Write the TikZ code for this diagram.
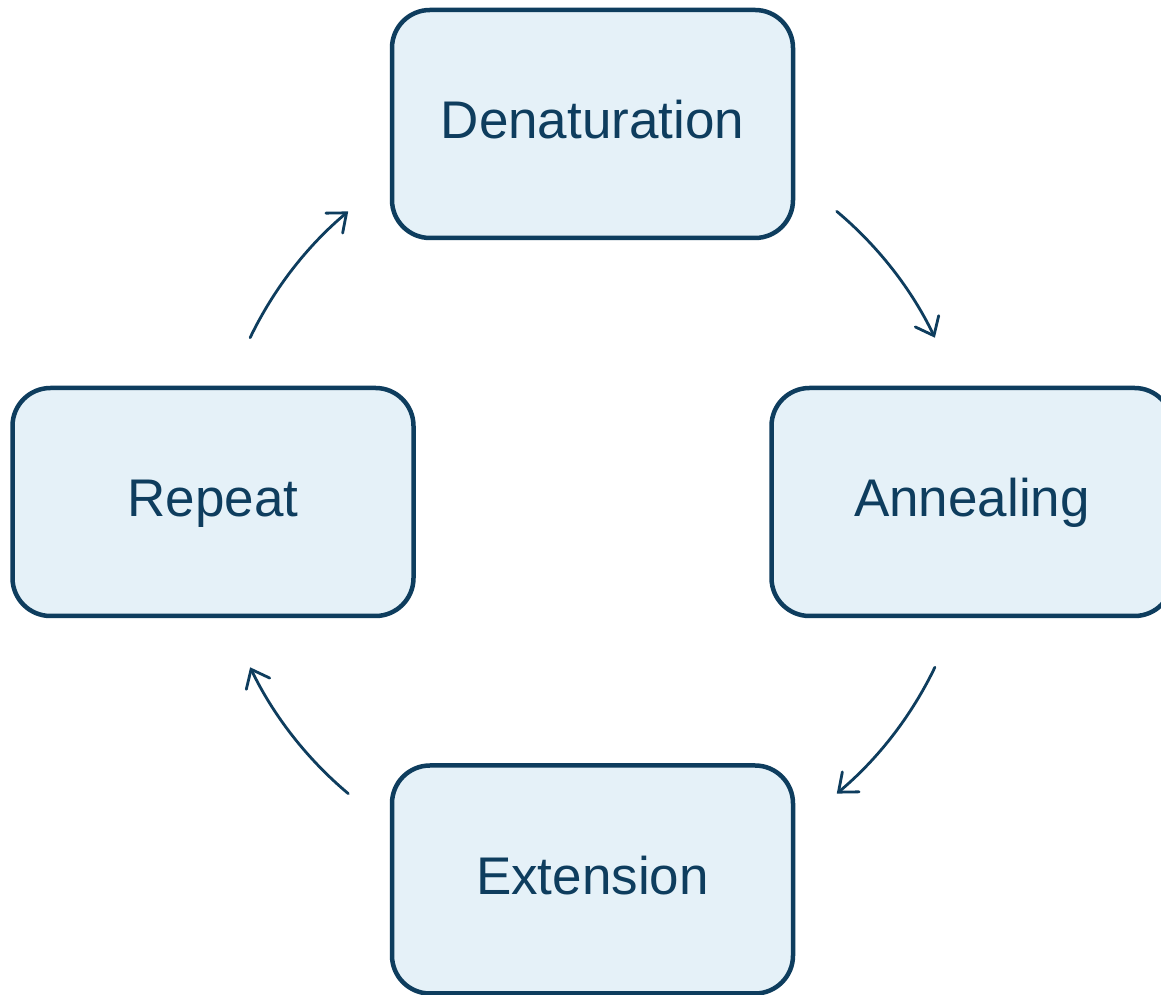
\documentclass[tikz,border=0pt]{standalone}
\usepackage{fontspec}
\setmainfont{Liberation Sans}
\usetikzlibrary{arrows.meta}
\definecolor{navy}{HTML}{0E3D5E}
\definecolor{stepfill}{HTML}{E5F1F8}
\tikzset{
  stagebox/.style={draw=navy, fill=stepfill, line width=4.5pt, rounded corners=38pt,
    minimum width=401pt, minimum height=228pt, inner sep=0pt,
    text height=30pt, text depth=0pt, text=navy, font=\fontsize{53}{62}\selectfont},
  cyclearrow/.style={draw=navy, line width=2.8pt, line cap=round,
    -{Straight Barb[length=16pt,width=26pt,line width=2.8pt,line cap=round]}}
}
\begin{document}
\begin{tikzpicture}[x=1pt,y=1pt]
  \clip (0,0) rectangle (1161,995);
  \fill[white] (0,0) rectangle (1161,995);
  % cycle centre and the four stages
  \coordinate (hub) at (592.5,492.5);
  \node[stagebox] (den) at (592.5,871) {Denaturation};
  \node[stagebox] (ann) at (972,493) {Annealing};
  \node[stagebox] (ext) at (592.5,115.5) {Extension};
  \node[stagebox] (rep) at (213,493) {Repeat};
  % arrow start points on the ring around the hub
  \coordinate (s1) at ([shift={(50:380)}]hub);
  \coordinate (s2) at ([shift={(-25.7:380)}]hub);
  \coordinate (s3) at ([shift={(230:380)}]hub);
  \coordinate (s4) at ([shift={(154.3:380)}]hub);
  \draw[cyclearrow] (s1) arc[start angle=50, end angle=25.7, radius=380];
  \draw[cyclearrow] (s2) arc[start angle=-25.7, end angle=-50, radius=380];
  \draw[cyclearrow] (s3) arc[start angle=230, end angle=205.7, radius=380];
  \draw[cyclearrow] (s4) arc[start angle=154.3, end angle=130, radius=380];
\end{tikzpicture}
\end{document}
